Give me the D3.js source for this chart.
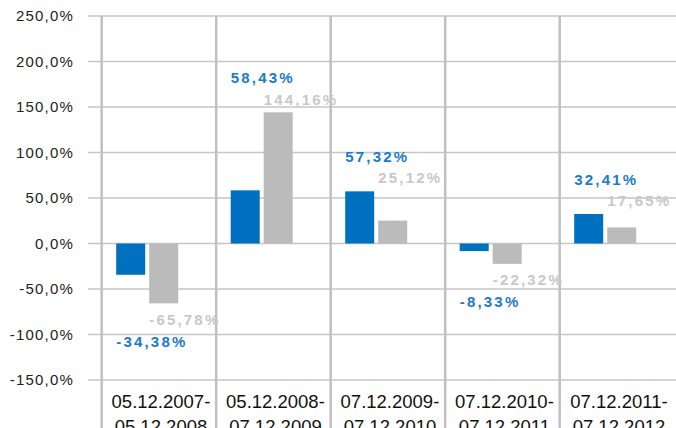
<!DOCTYPE html>
<html>
<head>
<meta charset="utf-8">
<script src="https://cdn.jsdelivr.net/npm/d3@7"></script>
<style>
  body { margin: 0; background: #fff; }
  svg { display: block; font-family: "Liberation Sans", Arial, sans-serif; }
</style>
</head>
<body>
<div id="chart"></div>
<script>
// periods (two-line labels)
var periods = ["05.12.2007-05.12.2008", "05.12.2008-07.12.2009", "07.12.2009-07.12.2010",
  "07.12.2010-07.12.2011", "07.12.2011-07.12.2012"];
var fund = [-34.38, 58.43, 57.32, -8.33, 32.41];
var bench = [-65.78, 144.16, 25.12, -22.32, 17.65];
// where the value labels sit, in % on the y axis
var fundLabelAt = [-107.9, 181.9, 95.1, -64.0, 69.8];
var benchLabelAt = [-84.1, 157.7, 72.0, -40.1, 47.0];
var yTicks = [250, 200, 150, 100, 50, 0, -50, -100, -150];

var width = 676, height = 428;
var svg = d3.select("#chart").append("svg")
  .attr("width", width).attr("height", height);

var x = d3.scaleBand().domain(periods).range([101.7, 674.2]).padding(0);
var x1 = d3.scaleBand().domain(["fund", "bench"]).range([14.5, 76.5])
  .paddingInner(0.1212).paddingOuter(0);
var y = d3.scaleLinear().domain([-150, 250]).range([380, 16]);

var fmt = function (v, d) { return v.toFixed(d).replace(".", ","); };

// horizontal grid
svg.append("g").selectAll("line").data(yTicks).join("line")
  .attr("x1", 88).attr("x2", width)
  .attr("y1", function (d) { return y(d); }).attr("y2", function (d) { return y(d); })
  .attr("stroke", "#c6c6c6").attr("stroke-width", 1.5);

// vertical separators
svg.append("g").selectAll("line").data(periods).join("line")
  .attr("x1", function (d) { return x(d); }).attr("x2", function (d) { return x(d); })
  .attr("y1", y(250)).attr("y2", height)
  .attr("stroke", "#c0c0c0").attr("stroke-width", 2.5);

// y axis labels
svg.append("g").selectAll("text").data(yTicks).join("text")
  .attr("x", 74).attr("y", function (d) { return y(d); })
  .attr("dy", "0.36em").attr("text-anchor", "end")
  .attr("font-size", 15).attr("letter-spacing", "1.2px").attr("fill", "#222")
  .text(function (d) { return fmt(d, 1) + "%"; });

// bars
var groups = svg.append("g").selectAll("g").data(periods).join("g")
  .attr("transform", function (d) { return "translate(" + x(d) + ",0)"; });

groups.append("rect")
  .attr("x", x1("fund")).attr("width", x1.bandwidth())
  .attr("y", function (d, i) { return y(Math.max(0, fund[i])); })
  .attr("height", function (d, i) { return Math.abs(y(fund[i]) - y(0)); })
  .attr("fill", "#0070c0");

groups.append("rect")
  .attr("x", x1("bench")).attr("width", x1.bandwidth())
  .attr("y", function (d, i) { return y(Math.max(0, bench[i])); })
  .attr("height", function (d, i) { return Math.abs(y(bench[i]) - y(0)); })
  .attr("fill", "#bbbbbb");

// value labels
groups.append("text")
  .attr("x", x1("fund")).attr("y", function (d, i) { return y(fundLabelAt[i]); })
  .attr("dy", "0.36em").attr("font-size", 15).attr("font-weight", "bold")
  .attr("letter-spacing", "2.2px").attr("fill", "#1a7acb")
  .text(function (d, i) { return fmt(fund[i], 2) + "%"; });

groups.append("text")
  .attr("x", x1("bench")).attr("y", function (d, i) { return y(benchLabelAt[i]); })
  .attr("dy", "0.36em").attr("font-size", 15).attr("font-weight", "bold")
  .attr("letter-spacing", "2.2px").attr("fill", "#c8c8c8")
  .text(function (d, i) { return fmt(bench[i], 2) + "%"; });

// category labels, two lines
var cat = groups.append("text")
  .attr("x", x.bandwidth() / 2 + 2).attr("y", 408)
  .attr("text-anchor", "middle").attr("font-size", 18.5).attr("fill", "#111");
cat.append("tspan").attr("x", x.bandwidth() / 2 + 2)
  .text(function (d) { return d.split("-")[0] + "-"; });
cat.append("tspan").attr("x", x.bandwidth() / 2 + 2).attr("dy", 25)
  .text(function (d) { return d.split("-")[1]; });
</script>
</body>
</html>
